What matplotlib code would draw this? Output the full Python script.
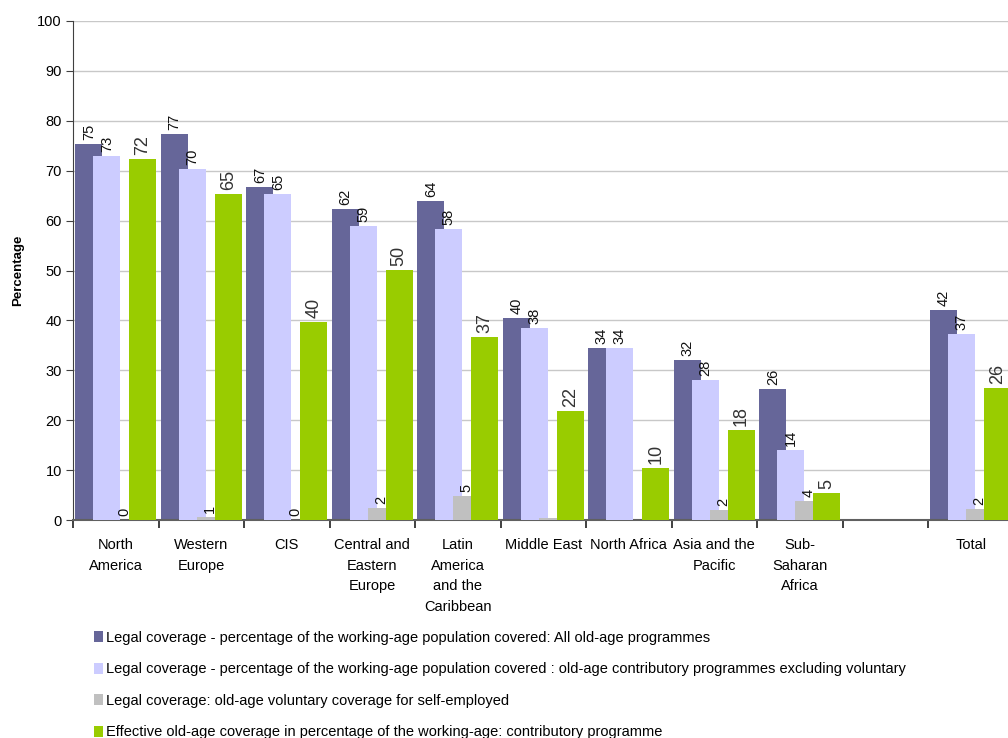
import matplotlib
matplotlib.use("Agg")
import matplotlib.pyplot as plt
import numpy as np

plt.rcParams['font.family'] = ['Liberation Sans', 'DejaVu Sans']

categories = ["North\nAmerica", "Western\nEurope", "CIS", "Central and\nEastern\nEurope",
              "Latin\nAmerica\nand the\nCaribbean", "Middle East", "North Africa",
              "Asia and the\nPacific", "Sub-\nSaharan\nAfrica", "", "Total"]

legal_all = [75.4, 77.3, 66.7, 62.3, 63.9, 40.5, 34.5, 32.1, 26.3, None, 42.1]
legal_contrib = [72.9, 70.3, 65.3, 58.9, 58.3, 38.5, 34.5, 28.1, 14.0, None, 37.3]
voluntary_self = [0.0, 0.7, 0.0, 2.4, 4.8, 0.4, None, 2.0, 3.8, None, 2.2]
voluntary_show_label = [True, True, True, True, True, False, False, True, True, False, True]
effective = [72.3, 65.3, 39.7, 50.1, 36.7, 21.8, 10.4, 18.0, 5.4, None, 26.5]

series_names = [
    "Legal coverage - percentage of the working-age population covered: All old-age programmes",
    "Legal coverage - percentage of the working-age population covered : old-age contributory programmes excluding voluntary",
    "Legal coverage: old-age voluntary coverage for self-employed",
    "Effective old-age coverage in percentage of the working-age: contributory programme",
]
colors = ["#666699", "#CCCCFF", "#C0C0C0", "#99CC00"]

fig = plt.figure(figsize=(10.08, 7.38), dpi=100)
ax_w = 11 * 85.5 / 1008
ax = fig.add_axes([73 / 1008, (738 - 520) / 738, ax_w, (520 - 21) / 738])

n = len(categories)
x = np.arange(n)
step = 0.21
width = 0.315
offsets = [-1.5 * step, -0.5 * step, 0.5 * step, 1.5 * step]
all_series = [legal_all, legal_contrib, voluntary_self, effective]

for i, (vals, col, name) in enumerate(zip(all_series, colors, series_names)):
    xs = [xi + offsets[i] for xi, v in zip(x, vals) if v is not None]
    hs = [v for v in vals if v is not None]
    ax.bar(xs, hs, width=width, color=col, label=name, zorder=2 + i, linewidth=0)
    for j, v in enumerate(vals):
        if v is None:
            continue
        if i == 2 and not voluntary_show_label[j]:
            continue
        fs = 13 if i == 3 else 10.5
        tc = "#333333" if i == 3 else "#111111"
        ax.text(x[j] + offsets[i], v + 0.8, f"{v:.0f}", rotation=90, ha="center",
                va="bottom", fontsize=fs, color=tc, zorder=10)

ax.set_xlim(-0.5, n - 0.5)
ax.set_ylim(0, 100)
ax.set_yticks(np.arange(0, 101, 10))
ax.tick_params(axis='y', labelsize=10.5, length=5, color="#404040", pad=3)
ax.yaxis.grid(True, color="#c8c8c8", linewidth=1.0, zorder=0)
ax.set_axisbelow(True)

ax.set_xticks(x)
ax.set_xticklabels(categories, fontsize=10.5, linespacing=1.6, va="top")
ax.set_xticks(np.arange(-0.5, n, 1.0), minor=True)
ax.tick_params(axis='x', which='major', length=0, pad=13)
ax.tick_params(axis='x', which='minor', length=6, color="#202020", width=1.2)

for s in ["top", "right"]:
    ax.spines[s].set_visible(False)
ax.spines["left"].set_color("#404040")
ax.spines["bottom"].set_color("#606060")
ax.spines["bottom"].set_linewidth(1.5)

fig.text(18 / 1008, 1 - 270 / 738, "Percentage", rotation=90, ha="center", va="center",
         fontsize=9.5, fontweight="bold")

leg = fig.legend(loc="upper left", bbox_to_anchor=(88 / 1008, 1 - 625 / 738), frameon=False,
                 fontsize=10.5, handlelength=0.65, handleheight=0.75, handletextpad=0.15,
                 labelspacing=1.2, borderaxespad=0)

fig.savefig("out.png", dpi=100)
